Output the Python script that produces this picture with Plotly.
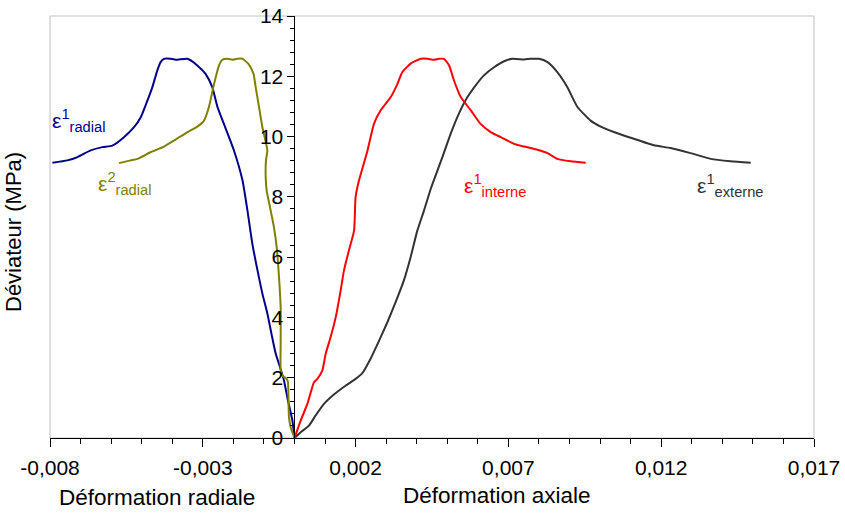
import plotly.graph_objects as go

# ---- data (strain, MPa) ----
radial1_x = [0.0, -0.0000687, -0.000213, -0.000344, -0.000474, -0.000615, -0.000756, -0.000887,
             -0.00105, -0.00121, -0.00138, -0.00154, -0.00170, -0.00198, -0.00231, -0.00252,
             -0.00269, -0.00291, -0.00318, -0.00350, -0.00383, -0.00405, -0.00427, -0.00438,
             -0.00449, -0.00465, -0.00481, -0.00503, -0.00525, -0.00558, -0.00596, -0.00629,
             -0.00667, -0.00710, -0.00743, -0.00792]
radial1_y = [0.0, 0.58, 1.24, 1.91, 2.35, 2.80, 3.47, 4.13,
             4.79, 5.56, 6.45, 7.55, 8.54, 9.54, 10.42, 10.98,
             11.64, 12.08, 12.36, 12.58, 12.55, 12.58, 12.58, 12.47,
             12.19, 11.64, 11.20, 10.64, 10.31, 9.98, 9.70, 9.65,
             9.54, 9.32, 9.21, 9.13]

radial2_x = [0.0, -0.000124, -0.000180, -0.000200, -0.000213, -0.000255, -0.000396, -0.000452,
             -0.000452, -0.000452, -0.000507, -0.000582, -0.000671, -0.000802, -0.000910, -0.000942,
             -0.000933, -0.000887, -0.00105, -0.00116, -0.00127, -0.00134, -0.00149, -0.00170,
             -0.00187, -0.00203, -0.00220, -0.00236, -0.00247, -0.00263, -0.00280, -0.00296,
             -0.00318, -0.00350, -0.00394, -0.00427, -0.00471, -0.00514, -0.00536, -0.00574]
radial2_y = [0.0, 0.36, 0.69, 1.47, 1.85, 1.96, 2.07, 2.24,
             3.13, 4.34, 5.34, 6.33, 6.99, 7.66, 8.21, 8.65,
             9.21, 9.54, 10.31, 10.98, 11.64, 12.08, 12.39, 12.58,
             12.58, 12.55, 12.58, 12.55, 12.36, 11.75, 10.98, 10.53,
             10.33, 10.15, 9.87, 9.67, 9.48, 9.26, 9.21, 9.12]

interne_x = [0.0, 0.000203, 0.000422, 0.000638, 0.000749, 0.000913, 0.00102, 0.00118,
             0.00135, 0.00151, 0.00162, 0.00178, 0.00195, 0.00200, 0.00211, 0.00239,
             0.00260, 0.00282, 0.00315, 0.00337, 0.00353, 0.00380, 0.00413, 0.00435,
             0.00456, 0.00473, 0.00489, 0.00506, 0.00522, 0.00544, 0.00577, 0.00609,
             0.00642, 0.00675, 0.00718, 0.00751, 0.00795, 0.00828, 0.00860, 0.00904, 0.00953]
interne_y = [0.0, 0.58, 1.13, 1.85, 1.96, 2.24, 2.79, 3.34,
             4.01, 4.89, 5.56, 6.22, 6.88, 7.99, 8.54, 9.54,
             10.42, 10.87, 11.31, 11.75, 12.14, 12.42, 12.58, 12.58,
             12.55, 12.58, 12.58, 12.36, 11.86, 11.31, 10.87, 10.42,
             10.15, 9.98, 9.76, 9.67, 9.56, 9.45, 9.26, 9.18, 9.13]

externe_x = [0.0, 0.000203, 0.000474, 0.000694, 0.000965, 0.00129, 0.00168, 0.00200,
             0.00222, 0.00249, 0.00277, 0.00304, 0.00331, 0.00358, 0.00380, 0.00402,
             0.00424, 0.00446, 0.00468, 0.00484, 0.00511, 0.00538, 0.00566, 0.00593,
             0.00620, 0.00653, 0.00686, 0.00713, 0.00751, 0.00773, 0.00800, 0.00828,
             0.00860, 0.00893, 0.00926, 0.00969, 0.01002, 0.01045, 0.01100, 0.01176,
             0.01231, 0.01296, 0.01362, 0.01427, 0.01493]
externe_y = [0.0, 0.19, 0.41, 0.75, 1.13, 1.44, 1.74, 1.96,
             2.15, 2.63, 3.23, 3.84, 4.51, 5.23, 6.00, 6.88,
             7.55, 8.27, 8.88, 9.32, 10.09, 10.76, 11.31, 11.70,
             12.03, 12.30, 12.50, 12.58, 12.56, 12.58, 12.58, 12.47,
             12.14, 11.64, 10.98, 10.53, 10.33, 10.15, 9.96, 9.71,
             9.62, 9.45, 9.26, 9.18, 9.13]

x_tickvals = [-0.008, -0.003, 0.002, 0.007, 0.012, 0.017]
x_ticktext = ["-0,008", "-0,003", "0,002", "0,007", "0,012", "0,017"]
y_tickvals = [0, 2, 4, 6, 8, 10, 12, 14]
y_ticktext = ["0", "2", "4", "6", "8", "10", "12", "14"]

series_labels = ["ε<sup>1</sup><sub>radial</sub>", "ε<sup>2</sup><sub>radial</sub>",
                 "ε<sup>1</sup><sub>interne</sub>", "ε<sup>1</sup><sub>externe</sub>"]

FONT = "Liberation Sans, Arial, sans-serif"
C_BLUE, C_OLIVE, C_RED, C_DARK = "#00008B", "#808000", "#FF0000", "#333333"

fig = go.Figure()
for xs, ys, c in [(radial1_x, radial1_y, C_BLUE), (radial2_x, radial2_y, C_OLIVE),
                  (externe_x, externe_y, C_DARK), (interne_x, interne_y, C_RED)]:
    fig.add_trace(go.Scatter(x=xs, y=ys, mode="lines",
                             line=dict(color=c, width=2, shape="spline", smoothing=0.5),
                             showlegend=False, hoverinfo="skip"))

fig.update_layout(
    width=845, height=515,
    margin=dict(l=50, r=31, t=16, b=77, autoexpand=False),
    paper_bgcolor="white", plot_bgcolor="white",
    font=dict(family=FONT, size=21, color="black"),
    showlegend=False,
    xaxis=dict(range=[-0.008, 0.017], tickmode="array", tickvals=x_tickvals, ticktext=x_ticktext,
               showgrid=False, zeroline=False, showline=True, linecolor="black", linewidth=1,
               ticks="outside", ticklen=8, tickcolor="black", tickwidth=1,
               ticklabelstandoff=3, automargin=False, ticklabeloverflow="allow",
               minor=dict(dtick=0.001, tick0=-0.008, ticks="outside", ticklen=5,
                          tickcolor="black", showgrid=False)),
    yaxis=dict(range=[0, 14], tickmode="array", tickvals=y_tickvals, ticktext=y_ticktext,
               anchor="free", position=0.32, automargin=False, ticklabeloverflow="allow",
               showgrid=False, zeroline=False, showline=True, linecolor="black", linewidth=1,
               ticks="outside", ticklen=7, tickcolor="black", tickwidth=1,
               minor=dict(dtick=0.4, tick0=0, ticks="outside", ticklen=4,
                          tickcolor="black", showgrid=False)),
    shapes=[dict(type="rect", xref="paper", yref="paper", x0=0, x1=1, y0=0, y1=1,
                 line=dict(color="#C0C0C0", width=1), layer="below")],
)

annos = [
    dict(text="Déformation radiale", x=157, y=497),
    dict(text="Déformation axiale", x=497, y=495),
]
for a in annos:
    fig.add_annotation(text=a["text"], xref="paper", yref="paper",
                       x=(a["x"] - 50) / 764, y=(438 - a["y"]) / 422,
                       showarrow=False, xanchor="center", yanchor="middle",
                       font=dict(size=22.5, color="black", family=FONT))
fig.add_annotation(text="Déviateur (MPa)", xref="paper", yref="paper",
                   x=(14 - 50) / 764, y=(438 - 232) / 422, textangle=-90,
                   showarrow=False, xanchor="center", yanchor="middle",
                   font=dict(size=22, color="black", family=FONT))

label_pos = [(-0.00706, 10.53, C_BLUE), (-0.00557, 8.44, C_OLIVE),
             (0.00655, 8.38, C_RED), (0.01427, 8.38, C_DARK)]
for txt, (lx, ly, c) in zip(series_labels, label_pos):
    fig.add_annotation(text=txt, x=lx, y=ly, xref="x", yref="y", showarrow=False,
                       xanchor="center", yanchor="middle",
                       font=dict(size=21, color=c, family=FONT))

# remove the default 8px page margin so the figure fills the 845x515 window
fig.write_html("out.html", config={"displayModeBar": False},
               post_script="document.body.style.margin='0';")
